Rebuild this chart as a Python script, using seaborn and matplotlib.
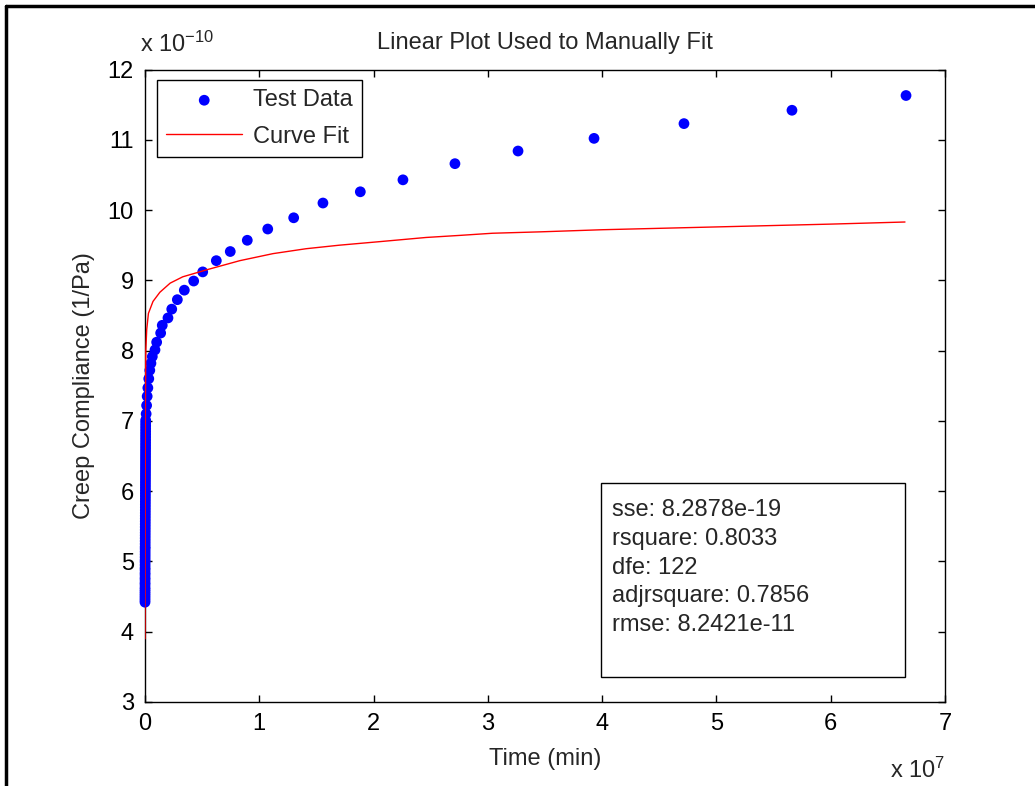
import matplotlib
matplotlib.use("Agg")
import matplotlib.pyplot as plt
import seaborn as sns
from matplotlib.lines import Line2D
from matplotlib.patches import Rectangle

# time in units of 1e7 min, compliance in units of 1e-10 1/Pa
time_data = [
    0.0001, 0.0001, 0.0002, 0.0002, 0.0003, 0.0003, 0.0004, 0.0004, 0.0005, 0.0005,
    0.0006, 0.0006, 0.0007, 0.0008, 0.0008, 0.0009, 0.0010, 0.0010, 0.0011, 0.0012,
    0.0013, 0.0013, 0.0014, 0.0015, 0.0016, 0.0017, 0.0018, 0.0019, 0.0020, 0.0021,
    0.0022, 0.0023, 0.0024, 0.0025, 0.0026, 0.0027, 0.0028, 0.0029, 0.0030, 0.0031,
    0.0032, 0.0033, 0.0034, 0.0035, 0.0036, 0.0037, 0.0038, 0.0039, 0.0040, 0.0041,
    0.0042, 0.0043, 0.0044, 0.0045, 0.0046, 0.0047, 0.0048, 0.0049, 0.0050, 0.0051,
    0.0052, 0.0053, 0.0054, 0.0055, 0.0056, 0.0057, 0.0058, 0.0059, 0.0060,
    0.010, 0.014, 0.019, 0.025, 0.033, 0.042, 0.052,
    0.064, 0.0875, 0.102, 0.137, 0.151, 0.201, 0.234, 0.283, 0.344, 0.426,
    0.505, 0.624, 0.746, 0.895, 1.074, 1.301, 1.557, 1.884, 2.257, 2.712,
    3.264, 3.929, 4.716, 5.661, 6.659,
]
comp_data = [
    4.42, 4.45, 4.48, 4.51, 4.54, 4.57, 4.60, 4.63, 4.67, 4.70,
    4.74, 4.77, 4.81, 4.84, 4.88, 4.91, 4.95, 4.99, 5.02, 5.06,
    5.10, 5.14, 5.18, 5.21, 5.25, 5.29, 5.33, 5.37, 5.41, 5.45,
    5.49, 5.53, 5.57, 5.61, 5.65, 5.69, 5.73, 5.77, 5.81, 5.85,
    5.89, 5.93, 5.97, 6.01, 6.05, 6.09, 6.13, 6.17, 6.21, 6.25,
    6.29, 6.33, 6.37, 6.41, 6.45, 6.49, 6.53, 6.57, 6.61, 6.65,
    6.69, 6.73, 6.77, 6.81, 6.85, 6.89, 6.93, 6.97, 7.01,
    7.10, 7.22, 7.35, 7.47, 7.60, 7.72, 7.82,
    7.915, 8.01, 8.12, 8.25, 8.36, 8.465, 8.59, 8.725, 8.86, 8.99,
    9.12, 9.28, 9.41, 9.57, 9.73, 9.89, 10.10, 10.26, 10.43, 10.66,
    10.84, 11.02, 11.23, 11.42, 11.63,
]

fit_time = [0.0, 0.002, 0.004, 0.007, 0.015, 0.03, 0.07, 0.13, 0.22, 0.33,
            0.54, 0.83, 1.12, 1.41, 1.70, 2.05, 2.46, 2.76, 3.04, 3.46,
            4.0, 5.0, 6.0, 6.65]
fit_comp = [3.9, 6.0, 7.3, 8.0, 8.3, 8.53, 8.7, 8.83, 8.96, 9.05,
            9.15, 9.28, 9.38, 9.45, 9.50, 9.55, 9.61, 9.64, 9.67, 9.69,
            9.72, 9.76, 9.80, 9.83]

stats_lines = ["sse: 8.2878e-19", "rsquare: 0.8033", "dfe: 122",
               "adjrsquare: 0.7856", "rmse: 8.2421e-11"]
x_ticks = [0, 1, 2, 3, 4, 5, 6, 7]
y_ticks = [3, 4, 5, 6, 7, 8, 9, 10, 11, 12]

FS = 17

sns.set_style("ticks")
plt.rcParams['font.family'] = ['Liberation Sans', 'DejaVu Sans']
plt.rcParams['mathtext.default'] = 'regular'
plt.rcParams['font.size'] = FS

fig = plt.figure(figsize=(10.35, 7.86), dpi=100)
ax = fig.add_axes([145/1035, 1-702/786, 800/1035, 632.5/786])

sns.scatterplot(x=time_data, y=comp_data, ax=ax, color='blue', s=60,
                edgecolor='none', label='Test Data', clip_on=False, zorder=3)
sns.lineplot(x=fit_time, y=fit_comp, ax=ax, color='red', lw=1,
             label='Curve Fit', sort=False, estimator=None, zorder=4)

ax.set_xlim(0, 7)
ax.set_ylim(3, 12)
ax.set_xticks(x_ticks)
ax.set_yticks(y_ticks)
ax.tick_params(direction='in', top=True, right=True, length=5, width=1,
               labelsize=FS, pad=8, colors='black')
for sp in ax.spines.values():
    sp.set_color('black')
    sp.set_linewidth(1)

ax.set_xlabel('Time (min)', fontsize=FS, labelpad=9)
ax.set_ylabel('Creep Compliance (1/Pa)', fontsize=FS, labelpad=9)
ax.set_title('Linear Plot Used to Manually Fit', fontsize=FS, pad=15)

leg = ax.legend(loc='upper left', bbox_to_anchor=(12/800, (702-80)/632.5),
                borderaxespad=0, frameon=True, fancybox=False,
                edgecolor='black', framealpha=1, handlelength=3.2,
                borderpad=0.4, labelspacing=0.6, handletextpad=0.45,
                fontsize=FS)
leg.get_frame().set_linewidth(1)

# fit statistics box
ax.add_patch(Rectangle(((601-145)/800, (702-677)/632.5), 304/800, 194/632.5,
                       transform=ax.transAxes, fill=False, edgecolor='black',
                       lw=1, zorder=5))
for i, s in enumerate(stats_lines):
    ax.text((612-145)/800, (702-(510+28.75*i))/632.5, s, transform=ax.transAxes,
            va='center', ha='left', fontsize=FS)

# axis multipliers
fig.text(140/1035, 1-52/786, r'x 10$^{-10}$', fontsize=FS, va='baseline')
fig.text(890/1035, 1-778/786, r'x 10$^{7}$', fontsize=FS, va='baseline')

# outer frame
fig.add_artist(Line2D([6/1035, 1], [1-6/786, 1-6/786], color='black', lw=2.5,
                      transform=fig.transFigure))
fig.add_artist(Line2D([6/1035, 6/1035], [0, 1-6/786], color='black', lw=2.5,
                      transform=fig.transFigure))

fig.savefig('out.png', dpi=100)
